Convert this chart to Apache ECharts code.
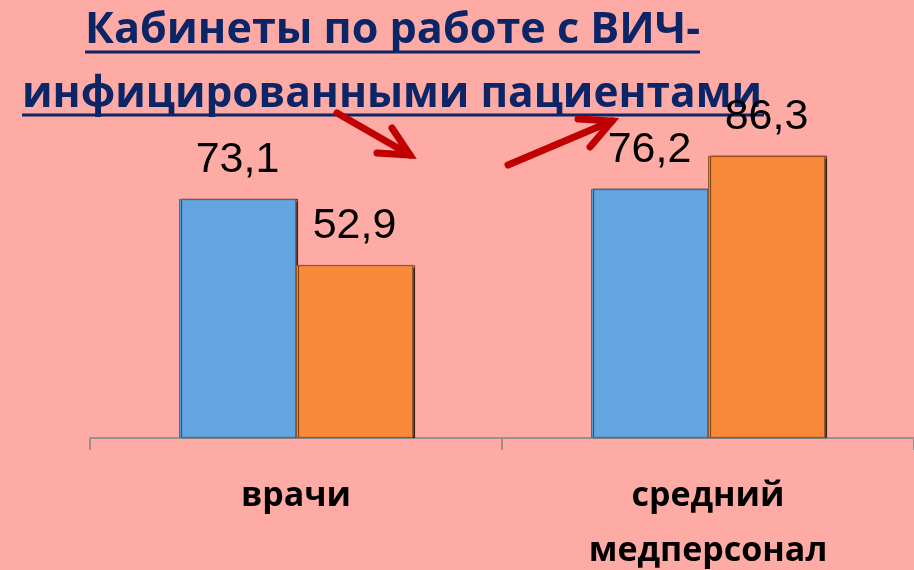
<!DOCTYPE html>
<html><head><meta charset="utf-8">
<script src="https://cdn.jsdelivr.net/npm/echarts@6/dist/echarts.min.js"></script>
<style>html,body{margin:0;padding:0;background:#FFABA5;}#c{width:914px;height:570px;}</style>
</head><body><div id="c"></div>
<script>
const categories = ['врачи', 'средний\nмедперсонал'];
const seriesA = [73.1, 76.2];
const seriesB = [52.9, 86.3];
const titleLines = ['Кабинеты по работе с ВИЧ-', 'инфицированными пациентами'];

const titleFont = 'bold 43px "Open Sans"';
function fitScale(text, target) {
  const ctx = document.createElement('canvas').getContext('2d');
  ctx.font = titleFont;
  return target / ctx.measureText(text).width;
}
const s1 = fitScale(titleLines[0], 615);
const s2 = fitScale(titleLines[1], 740);

const chart = echarts.init(document.getElementById('c'));
const labelFmt = p => String(p.value).replace('.', ',');
const lbl = {show: true, position: 'top', distance: 17, formatter: labelFmt, color: '#000', fontFamily: 'Liberation Sans', fontSize: 43};
chart.setOption({
  backgroundColor: '#FFABA5',
  animation: false,
  grid: {left: 90, right: 0, top: 111, bottom: 132, containLabel: false, outerBoundsMode: 'none'},
  xAxis: {
    type: 'category', data: categories,
    axisLine: {lineStyle: {color: '#9A9090', width: 2}},
    axisTick: {show: true, length: 12, lineStyle: {color: '#9A9090', width: 2}},
    axisLabel: {color: '#000', fontFamily: 'Open Sans', fontWeight: 'bold', fontSize: 34, lineHeight: 55, margin: 31}
  },
  yAxis: {type: 'value', min: 0, max: 100, show: false, splitLine: {show: false}},
  series: [
    {type: 'bar', data: seriesA, barWidth: 117, barGap: '0%', z: 3,
     itemStyle: {color: '#63A5E0', borderColor: '#3F6F9E', borderWidth: 1, shadowColor: 'rgba(0,0,0,0.6)', shadowOffsetX: 2, shadowBlur: 1},
     label: lbl},
    {type: 'bar', data: seriesB, barWidth: 117, z: 3,
     itemStyle: {color: '#F98A3A', borderColor: '#9E5420', borderWidth: 1, shadowColor: 'rgba(0,0,0,0.6)', shadowOffsetX: 2, shadowBlur: 1},
     label: lbl}
  ],
  graphic: [
    {type: 'text', x: 85, y: 52, scaleX: s1, z: 1, style: {text: titleLines[0], font: titleFont, fill: '#0B2566', verticalAlign: 'bottom'}},
    {type: 'line', z: 1, shape: {x1: 85, y1: 52, x2: 700, y2: 52}, style: {stroke: '#0B2566', lineWidth: 3}},
    {type: 'text', x: 22, y: 116, scaleX: s2, z: 1, style: {text: titleLines[1], font: titleFont, fill: '#0B2566', verticalAlign: 'bottom'}},
    {type: 'line', z: 1, shape: {x1: 22, y1: 115, x2: 764, y2: 115}, style: {stroke: '#0B2566', lineWidth: 3}},
    {type: 'polyline', z: 2, shape: {points: [[337,113],[410,155]]}, style: {stroke: '#C00000', lineWidth: 7, lineCap: 'round'}},
    {type: 'polyline', z: 2, shape: {points: [[377,153],[410,155],[392,128]]}, style: {stroke: '#C00000', lineWidth: 7, lineCap: 'round', lineJoin: 'miter', fill: null}},
    {type: 'polyline', z: 2, shape: {points: [[508,165],[612,121]]}, style: {stroke: '#C00000', lineWidth: 7, lineCap: 'round'}},
    {type: 'polyline', z: 2, shape: {points: [[578,119],[612,121],[590,147]]}, style: {stroke: '#C00000', lineWidth: 7, lineCap: 'round', lineJoin: 'miter', fill: null}}
  ]
});
</script></body></html>
